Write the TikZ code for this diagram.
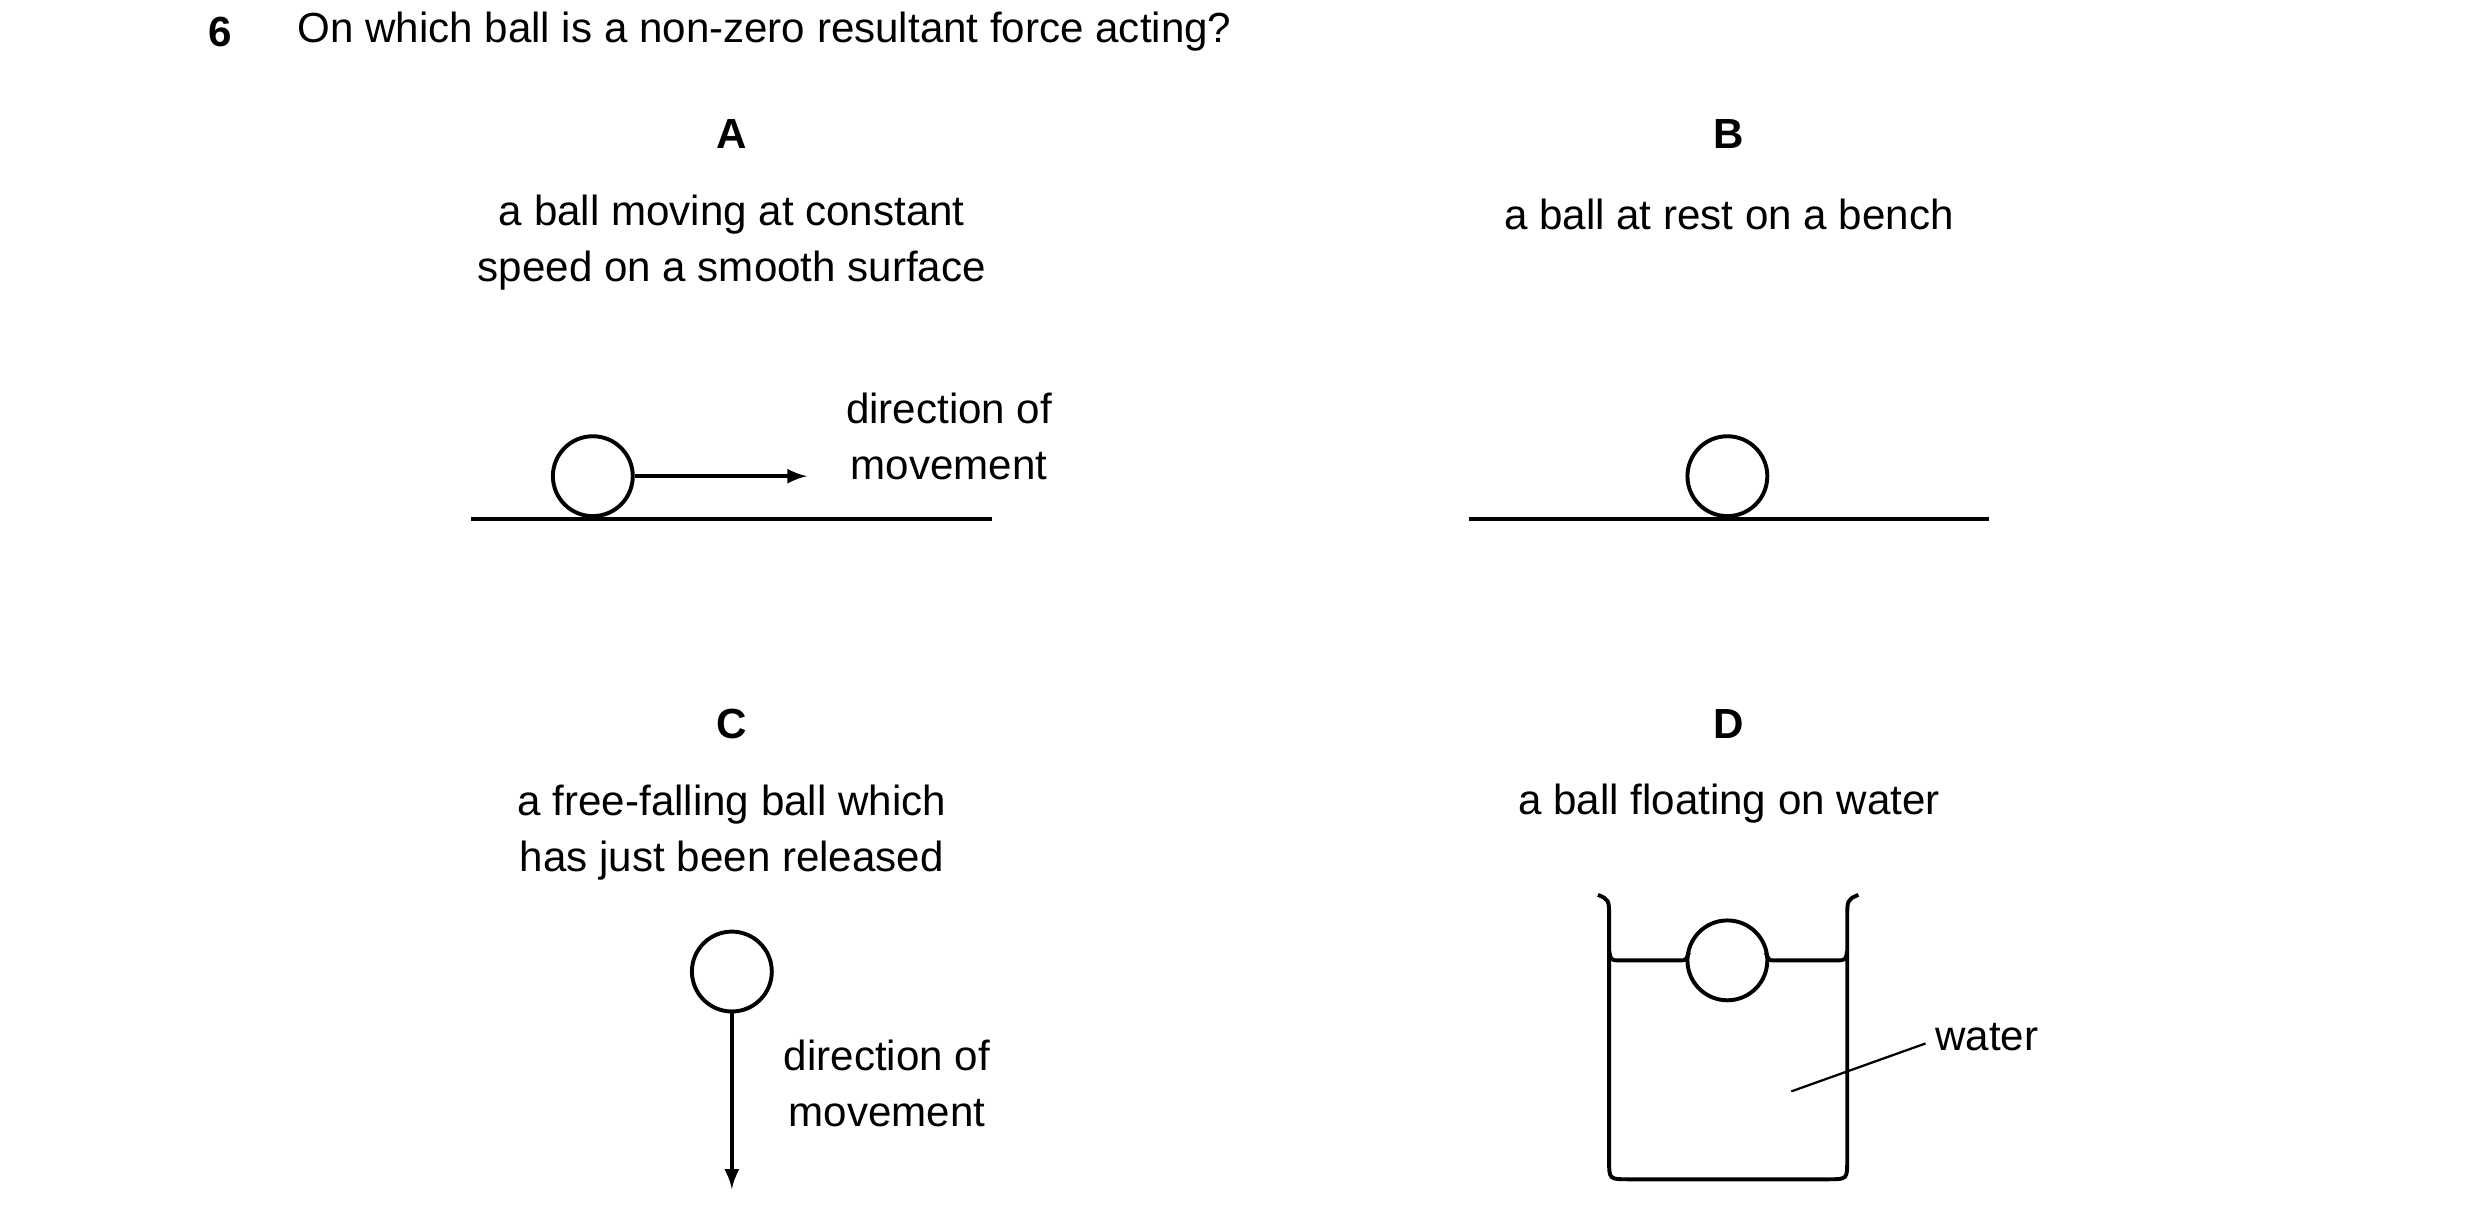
\documentclass[tikz,border=0pt]{standalone}
\usepackage{fontspec}
\setmainfont{Liberation Sans}
\usetikzlibrary{positioning}
\tikzset{ball/.style={draw,circle,line width=1.4pt,minimum size=1cm,inner sep=0pt}}
\tikzset{label/.style={align=center,font=\fontsize{15}{20}\selectfont}}
\tikzset{letter/.style={font=\fontsize{15}{20}\selectfont\bfseries}}
\tikzset{line/.style={line width=1.4pt}}
\begin{document}
\begin{tikzpicture}[x=0.02cm,y=-0.02cm]
    \useasboundingbox (0,0) rectangle (1552,760);

    \node[letter] (num) at (138,20){6};
    \node[label,anchor=west] (q) at (180,20){On which ball is a non-zero resultant force acting?};

    % A
    \node[letter] (la) at (458,84){A};
    \node[label] (ta) at (458,152){a ball moving at constant\\speed on a smooth surface};
    \node[ball] (ba) at (371,298){};
    \coordinate (ga1) at (295,325);
    \coordinate (ga2) at (621,325);
    \draw[line] (ga1) -- (ga2);
    \coordinate (ea) at (505,298);
    \draw[line,-latex] (ba) -- (ea);
    \node[label] (da) at (594,273){direction of\\movement};

    % B
    \node[letter] (lb) at (1082,84){B};
    \node[label] (tb) at (1082,134){a ball at rest on a bench};
    \node[ball] (bb) at (1081,298){};
    \coordinate (gb1) at (919,325);
    \coordinate (gb2) at (1245,325);
    \draw[line] (gb1) -- (gb2);

    % C
    \node[letter] (lc) at (458,453){C};
    \node[label] (tc) at (458,521){a free-falling ball which\\has just been released};
    \node[ball] (bc) at (458,608){};
    \coordinate (ec) at (458,744);
    \draw[line,-latex] (bc) -- (ec);
    \node[label] (dc) at (555,678){direction of\\movement};

    % D
    \node[letter] (ld) at (1082,453){D};
    \node[label] (td) at (1082,503){a ball floating on water};
    \node[ball] (bd) at (1081,601){};
    \draw[line] (1000,560) .. controls (1007,563) .. (1007,575) -- (1007,726)
        .. controls (1007,738) .. (1019,738) -- (1144,738)
        .. controls (1156,738) .. (1156,726) -- (1156,575)
        .. controls (1156,563) .. (1163,560);
    \draw[line] (1007,595) .. controls (1008,601) .. (1014,601) -- (1052,601) .. controls (1055,601) .. (1057,596);
    \draw[line] (1105,596) .. controls (1107,601) .. (1110,601) -- (1149,601) .. controls (1155,601) .. (1156,595);
    \node[label,anchor=west] (w) at (1205,649){water};
    \coordinate (wp) at (1121,683);
    \draw[line width=0.8pt] (w.west) ++(0,4) -- (wp);
\end{tikzpicture}
\end{document}
